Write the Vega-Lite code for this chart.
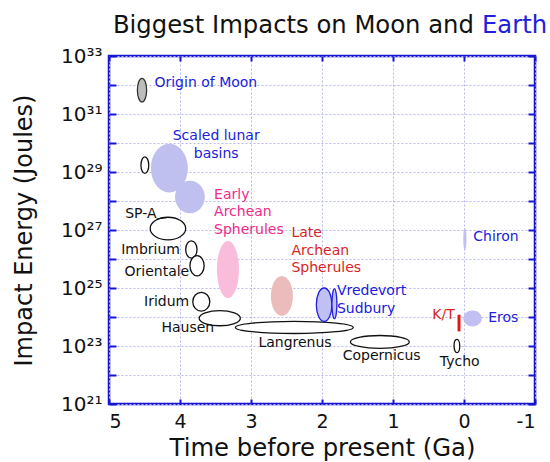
{
  "$schema": "https://vega.github.io/schema/vega-lite/v6.json",
  "width": 426,
  "height": 348,
  "autosize": {"type": "none"},
  "padding": {"left": 109, "top": 56, "right": 15, "bottom": 58},
  "config": {
    "font": "DejaVu Sans",
    "view": {"stroke": "#1414d2", "strokeWidth": 2.5},
    "axis": {"domain": false, "labelFont": "DejaVu Sans", "titleFont": "DejaVu Sans", "labelColor": "#111111", "titleColor": "#111111", "titleFontWeight": "normal", "tickColor": "#1414d2", "tickWidth": 2, "gridColor": "#b8b8ee", "gridDash": [2, 2], "gridWidth": 1}
  },
  "datasets": {
    "ellipses": [
      {"name": "Origin of Moon", "kind": "origin", "t1": 4.60, "t2": 4.47, "e1": 1.7e32, "e2": 2.6e31},
      {"name": "Unlabelled lunar basin", "kind": "crater", "t1": 4.55, "t2": 4.44, "e1": 3.3e29, "e2": 8.9e28},
      {"name": "Scaled lunar basins A", "kind": "basin", "t1": 4.41, "t2": 3.89, "e1": 9.5e29, "e2": 1.95e28},
      {"name": "Scaled lunar basins B", "kind": "basin", "t1": 4.07, "t2": 3.65, "e1": 5.0e28, "e2": 3.8e27},
      {"name": "SP-A", "kind": "crater", "t1": 4.42, "t2": 3.92, "e1": 2.75e27, "e2": 4.6e26},
      {"name": "Imbrium", "kind": "crater", "t1": 3.92, "t2": 3.76, "e1": 4.2e26, "e2": 1.07e26},
      {"name": "Orientale", "kind": "crater", "t1": 3.86, "t2": 3.66, "e1": 1.3e26, "e2": 2.6e25},
      {"name": "Early Archean Spherules", "kind": "early", "t1": 3.48, "t2": 3.17, "e1": 4.2e26, "e2": 4.5e24},
      {"name": "Iridum", "kind": "crater", "t1": 3.82, "t2": 3.58, "e1": 7.1e24, "e2": 1.6e24},
      {"name": "Langrenus", "kind": "crater", "t1": 3.22, "t2": 1.56, "e1": 7.1e23, "e2": 2.7e23},
      {"name": "Hausen", "kind": "crater", "t1": 3.73, "t2": 3.15, "e1": 1.66e24, "e2": 5.0e23},
      {"name": "Late Archean Spherules", "kind": "late", "t1": 2.72, "t2": 2.41, "e1": 2.6e25, "e2": 1.1e24},
      {"name": "Vredevort", "kind": "terrestrial", "t1": 2.08, "t2": 1.86, "e1": 1.0e25, "e2": 7.1e23},
      {"name": "Sudbury", "kind": "terrestrial", "t1": 1.86, "t2": 1.79, "e1": 9.3e24, "e2": 8.7e23},
      {"name": "Copernicus", "kind": "crater", "t1": 1.60, "t2": 0.77, "e1": 2.3e23, "e2": 8.3e22},
      {"name": "Tycho", "kind": "crater", "t1": 0.14, "t2": 0.06, "e1": 1.7e23, "e2": 5.9e22},
      {"name": "Eros", "kind": "asteroid", "t1": 0.01, "t2": -0.25, "e1": 1.66e24, "e2": 4.7e23},
      {"name": "Chiron", "kind": "asteroid", "t1": 0.01, "t2": -0.035, "e1": 1.2e27, "e2": 2.0e26}
    ],
    "kt": [
      {"name": "K/T", "t": 0.07, "e1": 1.2e24, "e2": 3.2e23}
    ],
    "leaders": [
      {"name": "SP-A", "t": 4.33, "t2": 4.17, "e1": 2.4e27, "e2": 2.7e27}
    ],
    "labelsLeft": [
      {"label": "Origin of Moon", "group": "earth", "t": 4.36, "e": 1.15e32},
      {"label": "Early\nArchean\nSpherules", "group": "early", "t": 3.52, "e": 1.66e28},
      {"label": "Late\nArchean\nSpherules", "group": "late", "t": 2.43, "e": 7.8e26},
      {"label": "Vredevort\nSudbury", "group": "earth", "t": 1.79, "e": 7.8e24},
      {"label": "Chiron", "group": "earth", "t": -0.13, "e": 5.9e26},
      {"label": "Eros", "group": "earth", "t": -0.34, "e": 8.9e23}
    ],
    "labelsRight": [
      {"label": "SP-A", "group": "moon", "t": 4.33, "e": 3.7e27},
      {"label": "Imbrium", "group": "moon", "t": 4.0, "e": 2.1e26},
      {"label": "Orientale", "group": "moon", "t": 3.87, "e": 3.5e25},
      {"label": "Iridum", "group": "moon", "t": 3.87, "e": 3.2e24},
      {"label": "K/T", "group": "late", "t": 0.13, "e": 1.2e24}
    ],
    "labelsCenter": [
      {"label": "Scaled lunar\nbasins", "group": "earth", "t": 3.49, "e": 1.7e30},
      {"label": "Hausen", "group": "moon", "t": 3.89, "e": 4.2e23},
      {"label": "Langrenus", "group": "moon", "t": 2.38, "e": 1.23e23},
      {"label": "Copernicus", "group": "moon", "t": 1.16, "e": 4.6e22},
      {"label": "Tycho", "group": "moon", "t": 0.06, "e": 2.8e22}
    ],
    "titleMain": [
      {"label": "Biggest Impacts on Moon and", "group": "moon", "t": -0.14, "e": 6.2e33}
    ],
    "titleWord": [
      {"label": "Earth", "group": "earth", "t": -0.14, "e": 6.2e33}
    ]
  },
  "layer": [
    {
      "data": {"name": "ellipses"},
      "mark": {
        "type": "point",
        "size": 4,
        "opacity": 1,
        "fillOpacity": 1,
        "strokeOpacity": 1,
        "strokeWidth": 1.3,
        "shape": {"expr": "'M0,'+0.5*(scale('y',datum.e2)-scale('y',datum.e1))+'C0,'+0.22385*(scale('y',datum.e2)-scale('y',datum.e1))+','+0.22385*(scale('x',datum.t2)-scale('x',datum.t1))+',0,'+0.5*(scale('x',datum.t2)-scale('x',datum.t1))+',0C'+0.77615*(scale('x',datum.t2)-scale('x',datum.t1))+',0,'+(scale('x',datum.t2)-scale('x',datum.t1))+','+0.22385*(scale('y',datum.e2)-scale('y',datum.e1))+','+(scale('x',datum.t2)-scale('x',datum.t1))+','+0.5*(scale('y',datum.e2)-scale('y',datum.e1))+'C'+(scale('x',datum.t2)-scale('x',datum.t1))+','+0.77615*(scale('y',datum.e2)-scale('y',datum.e1))+','+0.77615*(scale('x',datum.t2)-scale('x',datum.t1))+','+(scale('y',datum.e2)-scale('y',datum.e1))+','+0.5*(scale('x',datum.t2)-scale('x',datum.t1))+','+(scale('y',datum.e2)-scale('y',datum.e1))+'C'+0.22385*(scale('x',datum.t2)-scale('x',datum.t1))+','+(scale('y',datum.e2)-scale('y',datum.e1))+',0,'+0.77615*(scale('y',datum.e2)-scale('y',datum.e1))+',0,'+0.5*(scale('y',datum.e2)-scale('y',datum.e1))+'Z'"}
      },
      "encoding": {
        "x": {
          "field": "t1", "type": "quantitative",
          "scale": {"domain": [-1, 5], "reverse": true, "nice": false, "zero": false},
          "axis": {"orient": "bottom", "values": [5, 4, 3, 2, 1, 0, -1], "labelExpr": "datum.value < 0 ? '-' + (-datum.value) : '' + datum.value", "labelFontSize": 19, "labelPadding": 13, "tickSize": -5, "grid": true, "title": "Time before present (Ga)", "titleFontSize": 24.3, "titlePadding": 5}
        },
        "y": {
          "field": "e1", "type": "quantitative",
          "scale": {"type": "log", "domain": [1e21, 1e33], "nice": false},
          "axis": {"orient": "left", "values": [1e21, 1e22, 1e23, 1e24, 1e25, 1e26, 1e27, 1e28, 1e29, 1e30, 1e31, 1e32, 1e33], "labelExpr": "['10²¹','','10²³','','10²⁵','','10²⁷','','10²⁹','','10³¹','','10³³'][round(log(datum.value)/LN10)-21]", "labelFontSize": 20, "labelPadding": 14, "tickSize": -7, "grid": true, "title": "Impact Energy (Joules)", "titleFontSize": 24, "titlePadding": 24}
        },
        "fill": {"field": "kind", "type": "nominal", "legend": null, "scale": {"domain": ["origin", "crater", "basin", "early", "late", "terrestrial", "asteroid"], "range": ["#bdbdbd", "#ffffff", "#bfc0f0", "#f9bddb", "#ecbcbc", "#c0c0f2", "#c0c0f2"]}},
        "stroke": {"field": "kind", "type": "nominal", "legend": null, "scale": {"domain": ["origin", "crater", "basin", "early", "late", "terrestrial", "asteroid"], "range": ["#333333", "#111111", "transparent", "transparent", "transparent", "#2020dd", "transparent"]}}
      }
    },
    {
      "data": {"name": "kt"},
      "mark": {"type": "rule", "color": "#e01818", "strokeWidth": 3},
      "encoding": {
        "x": {
          "field": "t", "type": "quantitative",
          "scale": {"domain": [-1, 5], "reverse": true, "nice": false, "zero": false},
          "axis": {"orient": "top", "values": [5, 4, 3, 2, 1, 0, -1], "labels": false, "grid": false, "tickSize": -5, "title": null}
        },
        "y": {
          "field": "e1", "type": "quantitative",
          "scale": {"type": "log", "domain": [1e21, 1e33], "nice": false},
          "axis": {"orient": "right", "values": [1e21, 1e22, 1e23, 1e24, 1e25, 1e26, 1e27, 1e28, 1e29, 1e30, 1e31, 1e32, 1e33], "labels": false, "grid": false, "tickSize": -7, "title": null}
        },
        "y2": {"field": "e2"}
      }
    },
    {
      "data": {"name": "leaders"},
      "mark": {"type": "rule", "color": "#111111", "strokeWidth": 1},
      "encoding": {
        "x": {"field": "t", "type": "quantitative", "scale": {"domain": [-1, 5], "reverse": true, "nice": false, "zero": false}, "axis": null},
        "x2": {"field": "t2"},
        "y": {"field": "e1", "type": "quantitative", "scale": {"type": "log", "domain": [1e21, 1e33], "nice": false}, "axis": null},
        "y2": {"field": "e2"}
      }
    },
    {
      "data": {"name": "labelsLeft"},
      "mark": {"type": "text", "align": "left", "baseline": "middle", "fontSize": 14, "lineBreak": "\n", "lineHeight": 17.5, "font": "DejaVu Sans"},
      "encoding": {
        "x": {"field": "t", "type": "quantitative", "scale": {"domain": [-1, 5], "reverse": true, "nice": false, "zero": false}, "axis": null},
        "y": {"field": "e", "type": "quantitative", "scale": {"type": "log", "domain": [1e21, 1e33], "nice": false}, "axis": null},
        "text": {"field": "label"},
        "color": {"field": "group", "type": "nominal", "legend": null, "scale": {"domain": ["earth", "early", "late", "moon"], "range": ["#2020dd", "#ee2a8c", "#d62626", "#111111"]}}
      }
    },
    {
      "data": {"name": "labelsRight"},
      "mark": {"type": "text", "align": "right", "baseline": "middle", "fontSize": 14, "lineBreak": "\n", "lineHeight": 17.5, "font": "DejaVu Sans"},
      "encoding": {
        "x": {"field": "t", "type": "quantitative", "scale": {"domain": [-1, 5], "reverse": true, "nice": false, "zero": false}, "axis": null},
        "y": {"field": "e", "type": "quantitative", "scale": {"type": "log", "domain": [1e21, 1e33], "nice": false}, "axis": null},
        "text": {"field": "label"},
        "color": {"field": "group", "type": "nominal", "legend": null, "scale": {"domain": ["earth", "early", "late", "moon"], "range": ["#2020dd", "#ee2a8c", "#d62626", "#111111"]}}
      }
    },
    {
      "data": {"name": "labelsCenter"},
      "mark": {"type": "text", "align": "center", "baseline": "middle", "fontSize": 14, "lineBreak": "\n", "lineHeight": 17.5, "font": "DejaVu Sans"},
      "encoding": {
        "x": {"field": "t", "type": "quantitative", "scale": {"domain": [-1, 5], "reverse": true, "nice": false, "zero": false}, "axis": null},
        "y": {"field": "e", "type": "quantitative", "scale": {"type": "log", "domain": [1e21, 1e33], "nice": false}, "axis": null},
        "text": {"field": "label"},
        "color": {"field": "group", "type": "nominal", "legend": null, "scale": {"domain": ["earth", "early", "late", "moon"], "range": ["#2020dd", "#ee2a8c", "#d62626", "#111111"]}}
      }
    },
    {
      "data": {"name": "titleMain"},
      "mark": {"type": "text", "align": "right", "baseline": "alphabetic", "fontSize": 24.3, "font": "DejaVu Sans"},
      "encoding": {
        "x": {"field": "t", "type": "quantitative", "scale": {"domain": [-1, 5], "reverse": true, "nice": false, "zero": false}, "axis": null},
        "y": {"field": "e", "type": "quantitative", "scale": {"type": "log", "domain": [1e21, 1e33], "nice": false}, "axis": null},
        "text": {"field": "label"},
        "color": {"field": "group", "type": "nominal", "legend": null, "scale": {"domain": ["earth", "early", "late", "moon"], "range": ["#2020dd", "#ee2a8c", "#d62626", "#111111"]}}
      }
    },
    {
      "data": {"name": "titleWord"},
      "mark": {"type": "text", "align": "left", "baseline": "alphabetic", "fontSize": 24.3, "dx": 8, "font": "DejaVu Sans"},
      "encoding": {
        "x": {"field": "t", "type": "quantitative", "scale": {"domain": [-1, 5], "reverse": true, "nice": false, "zero": false}, "axis": null},
        "y": {"field": "e", "type": "quantitative", "scale": {"type": "log", "domain": [1e21, 1e33], "nice": false}, "axis": null},
        "text": {"field": "label"},
        "color": {"field": "group", "type": "nominal", "legend": null, "scale": {"domain": ["earth", "early", "late", "moon"], "range": ["#2020dd", "#ee2a8c", "#d62626", "#111111"]}}
      }
    }
  ],
  "resolve": {"axis": {"x": "independent", "y": "independent"}}
}
